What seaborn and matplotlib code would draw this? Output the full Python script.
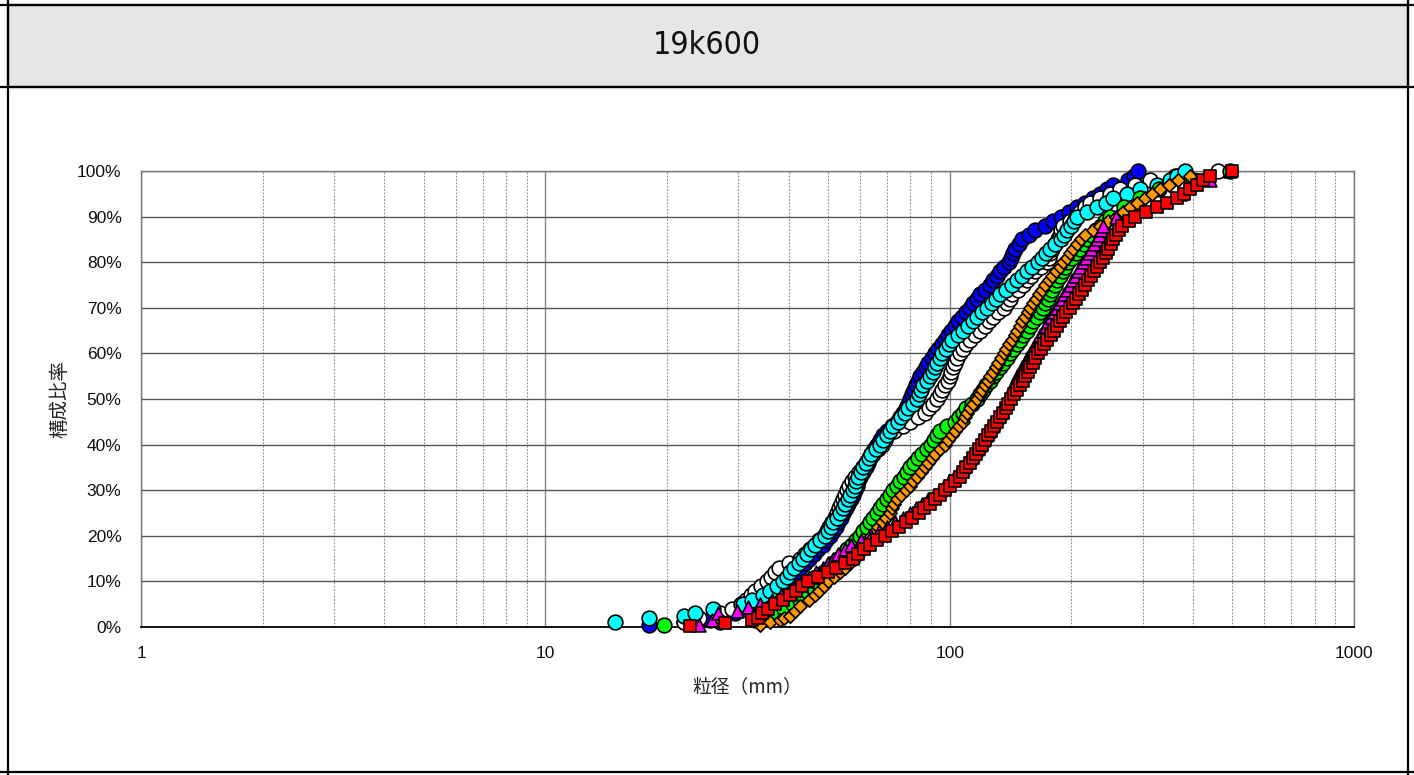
import numpy as np
import pandas as pd
import matplotlib
matplotlib.use("Agg")
import matplotlib.pyplot as plt
from matplotlib.patches import Rectangle
from matplotlib.lines import Line2D
from matplotlib.ticker import PercentFormatter, FixedLocator, FixedFormatter, NullFormatter
import seaborn as sns

# ---------------- data (particle size mm, cumulative %) ----------------
blue_p = [0.5, 1, 1.5, 3, 4, 5, 6, 7, 8, 9, 10, 11, 12, 13, 14, 15, 16, 17, 18, 19, 20, 21, 22, 23, 24, 25,
          26, 27, 28, 29, 30, 31, 32, 33, 34, 35, 36, 37, 38, 39, 40, 41, 42, 43, 44, 45, 46, 47, 48, 49, 50,
          51, 52, 53, 54, 55, 56, 57, 58, 59, 60, 61, 62, 63, 64, 65, 66, 67, 68, 69, 70, 71, 72, 73, 74, 75,
          76, 77, 78, 79, 80, 81, 82, 83, 84, 85, 86, 87, 88, 89, 90, 91, 92, 93, 94, 95, 96, 97, 98, 99, 100]
blue_d = [18, 22, 25.5, 29.5, 31, 32.5, 34, 35.5, 37, 38.8, 40.3, 41, 41.8, 42.6, 43.8, 45, 46.2, 47.3, 48.5,
          49.5, 50.6, 51.4, 52.2, 53, 53.8, 54.6, 55.4, 56.2, 57, 57.7, 58.4, 59, 59.5, 60, 61, 62, 62.7, 63.3,
          64, 65, 66, 67.3, 68.6, 70, 72, 74, 75.3, 76.7, 78, 79, 80, 80.8, 81.7, 82.5, 83.5, 84.5, 85.8, 87.2,
          88.5, 90.2, 92, 93.8, 95.6, 97.5, 99.2, 101, 103, 105, 107, 109.5, 112, 114.3, 116.6, 119, 122.5, 126,
          128.3, 130.6, 133, 136.5, 140, 141.6, 143.3, 145, 148, 151, 157, 163, 172, 180, 188, 197, 207, 216,
          226, 235, 245, 254, 276, 285, 292]

white_p = [1, 2, 3, 4, 5, 6, 7, 8, 9, 10, 11, 12, 13, 14, 15, 16, 17, 18, 19, 20, 21, 22, 23, 24, 25,
           26, 27, 28, 29, 30, 31, 32, 33, 34, 35, 36, 37, 38, 39, 40, 41, 42, 43, 44, 45, 46, 47, 48, 49, 50,
           51, 52, 53, 54, 55, 56, 57, 58, 59, 60, 61, 62, 63, 64, 65, 66, 67, 68, 69, 70, 71, 72, 73, 74, 75,
           76, 77, 78, 79, 80, 81, 82, 83, 84, 85, 86, 87, 88, 89, 90, 91, 92, 93, 94, 95, 96, 97, 98, 99, 100]
white_d = [22, 24, 27, 29, 30.5, 31.3, 32.2, 33, 34.2, 35.3, 36.1, 37, 37.8, 40, 42.6, 43.9, 45.2, 46.5, 47.6,
           48.8, 49.6, 50.4, 51.3, 52, 52.6, 53.3, 54, 54.6, 55.1, 55.6, 56.5, 57.5, 58.4, 59.7, 61, 62.2, 63.5,
           64.8, 66.4, 68, 69, 70, 73, 76.5, 80, 83.5, 87, 89, 91, 93, 94.5, 96, 97.5, 98.8, 100, 101, 102, 103,
           104.5, 106, 108, 110, 112, 115.5, 119, 122, 125, 128, 132, 136, 138.3, 140.6, 143, 147.5, 152, 155.5,
           159.3, 163, 168.5, 174, 175.7, 177.3, 179, 182, 185, 187, 189, 191, 198, 205, 210.5, 216, 222, 235,
           249, 264, 287, 313, 360, 460]

cyan_p = [1, 2, 2.5, 3, 4, 5, 6, 7, 8, 9, 10, 11, 12, 13, 14, 15, 16, 17, 18, 19, 20, 21, 22, 23, 24, 25,
          26, 27, 28, 29, 30, 31, 32, 33, 34, 35, 36, 37, 38, 39, 40, 41, 42, 43, 44, 45, 46, 47, 48, 49, 50,
          51, 52, 53, 54, 55, 56, 57, 58, 59, 60, 61, 62, 63, 64, 65, 66, 67, 68, 69, 70, 71, 72, 73, 74, 75,
          76, 77, 78, 79, 80, 81, 82, 83, 84, 85, 86, 87, 88, 89, 90, 91, 92, 93, 94, 95, 96, 97, 98, 99, 100]
cyan_d = [14.9, 18, 22, 23.5, 26, 30.8, 32.5, 34.5, 36, 37.4, 38.7, 39.5, 40.3, 41.3, 42.3, 43.4, 44.4, 45.5,
          46.5, 47.9, 49.3, 50, 50.8, 51.5, 52.5, 53.6, 54.4, 55.2, 56, 56.8, 57.7, 58.3, 58.8, 59.4, 60.2, 61,
          62, 63, 64, 65.6, 67.3, 68.5, 69.8, 71, 72.6, 74.3, 75.8, 77.4, 79, 81, 83, 84, 85, 86, 87.7, 89.5,
          90.7, 91.8, 93, 94.5, 96, 97.8, 99.6, 101.5, 104.7, 108, 111, 114, 117, 120.5, 124, 127, 130, 133, 138,
          143, 147, 151, 155, 160, 165, 169, 173, 177, 182.5, 188, 191.5, 195, 199, 203, 207, 219, 232, 243, 254,
          275, 296, 326, 351, 365, 382]

green_p = [0.5, 1, 1.5, 2, 3, 4, 5, 6, 7, 8, 9, 10, 11, 12, 13, 14, 15, 16, 17, 18, 19, 20, 21, 22, 23, 24,
           25, 26, 27, 28, 29, 30, 31, 32, 33, 34, 35, 36, 37, 38, 39, 40, 41, 42, 43, 44, 45, 46, 47, 48, 49,
           50, 51, 52, 53, 54, 55, 56, 57, 58, 59, 60, 61, 62, 63, 64, 65, 66, 67, 68, 69, 70, 71, 72, 73, 74,
           75, 76, 77, 78, 79, 80, 81, 82, 83, 84, 85, 86, 87, 88, 89, 90, 92, 94, 96, 98, 100]
green_d = [19.7, 27, 33, 35, 37, 39, 41, 42.6, 43.5, 44.5, 45.5, 46.5, 47.7, 49, 50.3, 51.6, 53, 54.4, 55.8,
           57.3, 58.6, 60, 61.2, 62.5, 63.6, 64.8, 66, 67.3, 68.6, 70, 71.2, 72.5, 74, 75.5, 77, 78.5, 80, 81.8,
           83.6, 85.5, 87.7, 90, 91.5, 93, 94.5, 98.7, 103, 105.3, 107.6, 110, 113.5, 117, 119, 121, 123.3, 125.6,
           128, 130.5, 133, 135.6, 138.3, 141, 143.7, 146.4, 149.2, 152, 155, 158, 161, 164, 167, 170, 172.3,
           174.6, 177, 179.5, 182, 184.7, 187.4, 190.2, 193, 196, 200.5, 205, 209.6, 214.3, 219, 224.6, 230.5,
           236.5, 242.7, 249, 270, 295, 330, 400, 493]

orange_p = [0.5, 1, 1.5, 2, 2.5, 3.5, 4.5, 6, 7, 8, 9, 10, 11, 12, 13, 14, 15, 16, 17, 18, 19, 20, 21, 22,
            23, 24, 25, 26, 27, 28, 29, 30, 31, 32, 33, 34, 35, 36, 37, 38, 39, 40, 41, 42, 43, 44, 45, 46, 47,
            48, 49, 50, 51, 52, 53, 54, 55, 56, 57, 58, 59, 60, 61, 62, 63, 64, 65, 66, 67, 68, 69, 70, 71, 72,
            73, 74, 75, 76, 77, 78, 79, 80, 81, 82, 83, 84, 85, 86, 87, 88, 89, 90, 91, 92, 93, 94, 95, 96, 97,
            98, 99]
orange_d = [34, 36, 38, 39, 40.3, 41.5, 42.6, 44.8, 46.5, 47.6, 48.8, 50, 51.7, 53.5, 55, 56.7, 58.4, 59.6,
            60.8, 62, 63, 64, 65.3, 66.6, 68, 69.5, 71, 72, 73, 74, 76, 78, 79.6, 81.3, 83, 85, 87, 88.6, 90.3,
            92, 94.7, 97.5, 99.3, 101.2, 103, 105.5, 108, 109.3, 110.6, 112, 114.5, 117, 118.7, 120.5, 122.3,
            124.2, 126, 128, 130, 132, 134, 136, 138, 140.2, 142.4, 144.7, 147, 149.2, 151.4, 153.6, 155.8, 158,
            160.7, 163.5, 166.3, 169.1, 172, 175.7, 179.4, 183.2, 187, 191, 194.6, 198.3, 202, 206.5, 211, 216,
            226, 236, 247, 258, 268, 279, 291, 304, 317, 331, 349, 368, 393]

magenta_p = [0.5, 1.5, 3, 3.5, 4.3, 5, 6, 7, 8, 9, 10, 11, 12, 13, 14, 15, 16, 17, 18, 19, 20, 21, 22, 23,
             24, 25, 26, 27, 28, 29, 30, 31, 32, 33, 34, 35, 36, 37, 38, 39, 40, 41, 42, 43, 44, 45, 46, 47, 48,
             49, 50, 51, 52, 53, 54, 55, 56, 57, 58, 59, 60, 61, 62, 63, 64, 65, 66, 67, 68, 69, 70, 71, 72, 73,
             74, 75, 76, 77, 78, 79, 80, 81, 82, 83, 84, 85, 86, 87, 88, 90, 95, 98, 100]
magenta_d = [24, 25.8, 26.7, 29.8, 31.8, 34, 36.3, 38.3, 40.3, 41.8, 43.4, 45, 46.7, 48.5, 50, 51.5, 53, 55, 57,
             60.5, 64, 67, 70, 73.3, 76.6, 80, 82.7, 85.5, 88.4, 91.4, 94.5, 97, 99.6, 102.3, 105, 108, 110,
             112.2, 114.4, 116.7, 119, 121, 123, 125, 127, 129, 131, 133, 135, 137, 139, 140.5, 142, 143.7, 145.3,
             147, 149, 151.2, 153.4, 155.7, 158, 160.3, 162.6, 165, 167.5, 170, 172.7, 175.5, 178.3, 181, 184,
             186.7, 189.4, 192.2, 195, 198, 201, 204, 207.3, 210.6, 214, 217.3, 220.7, 224, 227.5, 231, 234, 237,
             240, 258, 371, 440, 493]

red_p = [0.3, 0.9, 1.5, 2, 3, 4, 5, 6, 7, 8, 9, 10, 11, 12, 13, 14, 15, 16, 17, 18, 19, 20, 21, 22, 23, 24,
         25, 26, 27, 28, 29, 30, 31, 32, 33, 34, 35, 36, 37, 38, 39, 40, 41, 42, 43, 44, 45, 46, 47, 48, 49, 50,
         51, 52, 53, 54, 55, 56, 57, 58, 59, 60, 61, 62, 63, 64, 65, 66, 67, 68, 69, 70, 71, 72, 73, 74, 75,
         76, 77, 78, 79, 80, 81, 82, 83, 84, 85, 86, 87, 88, 89, 90, 91, 92, 93, 94, 95, 96, 97, 98, 99, 100]
red_d = [22.8, 27.8, 32.5, 33.5, 34.3, 35.6, 37, 38.6, 40.3, 41.7, 43.1, 44.6, 47.3, 50, 52.4, 55, 57.7, 59.5,
         61.5, 63.5, 66.2, 69, 72, 75, 77.9, 80.9, 84, 86.6, 89.2, 92, 94.7, 97.5, 100.2, 103, 106, 108, 110, 112,
         114, 116, 118, 120, 122.1, 124.3, 126.5, 128.7, 131, 133.1, 135.3, 137.5, 139.7, 142, 144.3, 146.6, 149,
         151.5, 154, 156.1, 158.3, 160.5, 162.7, 165, 168, 171, 174.3, 177.6, 181, 184.3, 187.7, 191, 194.5, 198,
         201.5, 205, 208.6, 212.3, 216, 220, 223.9, 227.9, 232, 236, 239.5, 243, 246.7, 250.3, 254, 258.3, 262.6,
         267, 277, 287, 306, 326, 345, 365, 379, 393, 408, 424, 440, 499]

x_ticks = [1, 10, 100, 1000]
x_tick_labels = ["1", "10", "100", "1000"]
y_ticks = [0, 10, 20, 30, 40, 50, 60, 70, 80, 90, 100]
title_text = "19k600"
x_label = "粒径（mm）"
y_label = "構成比率"

series = [
    ("blue", blue_d, blue_p, "#0000ff", "o"),
    ("white", white_d, white_p, "#ffffff", "o"),
    ("cyan", cyan_d, cyan_p, "#00ffff", "o"),
    ("green", green_d, green_p, "#00ff00", "o"),
    ("orange", orange_d, orange_p, "#ff9900", "D"),
    ("magenta", magenta_d, magenta_p, "#ff00ff", "^"),
    ("red", red_d, red_p, "#ff0000", "s"),
]

# ---------------- figure ----------------
sns.set_style("white")
plt.rcParams['font.family'] = ['Noto Sans CJK JP', 'DejaVu Sans']

W, H = 1414, 775
fig = plt.figure(figsize=(W / 100, H / 100), dpi=100)

def fx(px):
    return px / W

def fy(py):
    return 1 - py / H

# header box
fig.patches.append(Rectangle((fx(8), fy(87)), fx(1408) - fx(8), fy(5) - fy(87),
                             transform=fig.transFigure, facecolor="#e6e6e6",
                             edgecolor="black", linewidth=1.6, zorder=0))
for (x0, y0, x1, y1) in [(0, 5, W, 5), (0, 87, W, 87), (8, 0, 8, H), (1408, 0, 1408, H), (0, 772, W, 772)]:
    fig.add_artist(Line2D([fx(x0), fx(x1)], [fy(y0), fy(y1)], transform=fig.transFigure,
                          color="black", linewidth=1.6))
fig.text(fx(707), fy(46), title_text, ha="center", va="center", fontsize=23,
         family=["DejaVu Sans"], fontstretch="condensed", color="#111111")

ax = fig.add_axes([fx(141), fy(627), fx(1354) - fx(141), fy(171) - fy(627)])

sizes = {"o": 112, "s": 82, "^": 85, "D": 46}
for name, d, p, col, mk in series:
    df = pd.DataFrame({"size": d, "pct": p})
    sns.scatterplot(data=df, x="size", y="pct", ax=ax, color=col, marker=mk, s=sizes[mk],
                    edgecolor="black", linewidth=1.2, legend=False, zorder=3, clip_on=False)

ax.set_xscale("log")
ax.set_xlim(1, 1000)
ax.set_ylim(0, 100)
ax.xaxis.set_major_locator(FixedLocator(x_ticks))
ax.xaxis.set_major_formatter(FixedFormatter(x_tick_labels))
minor = [m * 10 ** e for e in range(0, 3) for m in range(2, 10)]
ax.xaxis.set_minor_locator(FixedLocator(minor))
ax.xaxis.set_minor_formatter(NullFormatter())
ax.yaxis.set_major_locator(FixedLocator(y_ticks))
ax.yaxis.set_major_formatter(PercentFormatter(100, decimals=0))

ax.grid(True, which="major", axis="y", color="#555555", linewidth=1.0)
ax.grid(True, which="major", axis="x", color="#888888", linewidth=1.0)
ax.grid(True, which="minor", axis="x", color="#888888", linewidth=0.8, linestyle=(0, (1.5, 1.5)))
ax.set_axisbelow(True)

for s in ["left", "right", "top"]:
    ax.spines[s].set_color("#777777")
    ax.spines[s].set_linewidth(1.0)
ax.spines["bottom"].set_color("black")
ax.spines["bottom"].set_linewidth(1.3)

ax.tick_params(axis="both", which="both", length=0, labelsize=12.5, colors="#111111")
ax.tick_params(axis="x", pad=14)
ax.tick_params(axis="y", pad=14)
for lab in ax.get_xticklabels() + ax.get_yticklabels():
    lab.set_family(["Liberation Sans", "DejaVu Sans"])

ax.set_xlabel(x_label, fontsize=13.5, labelpad=11)
ax.set_ylabel(y_label, fontsize=14, labelpad=5)

fig.savefig("out.png", dpi=100)
